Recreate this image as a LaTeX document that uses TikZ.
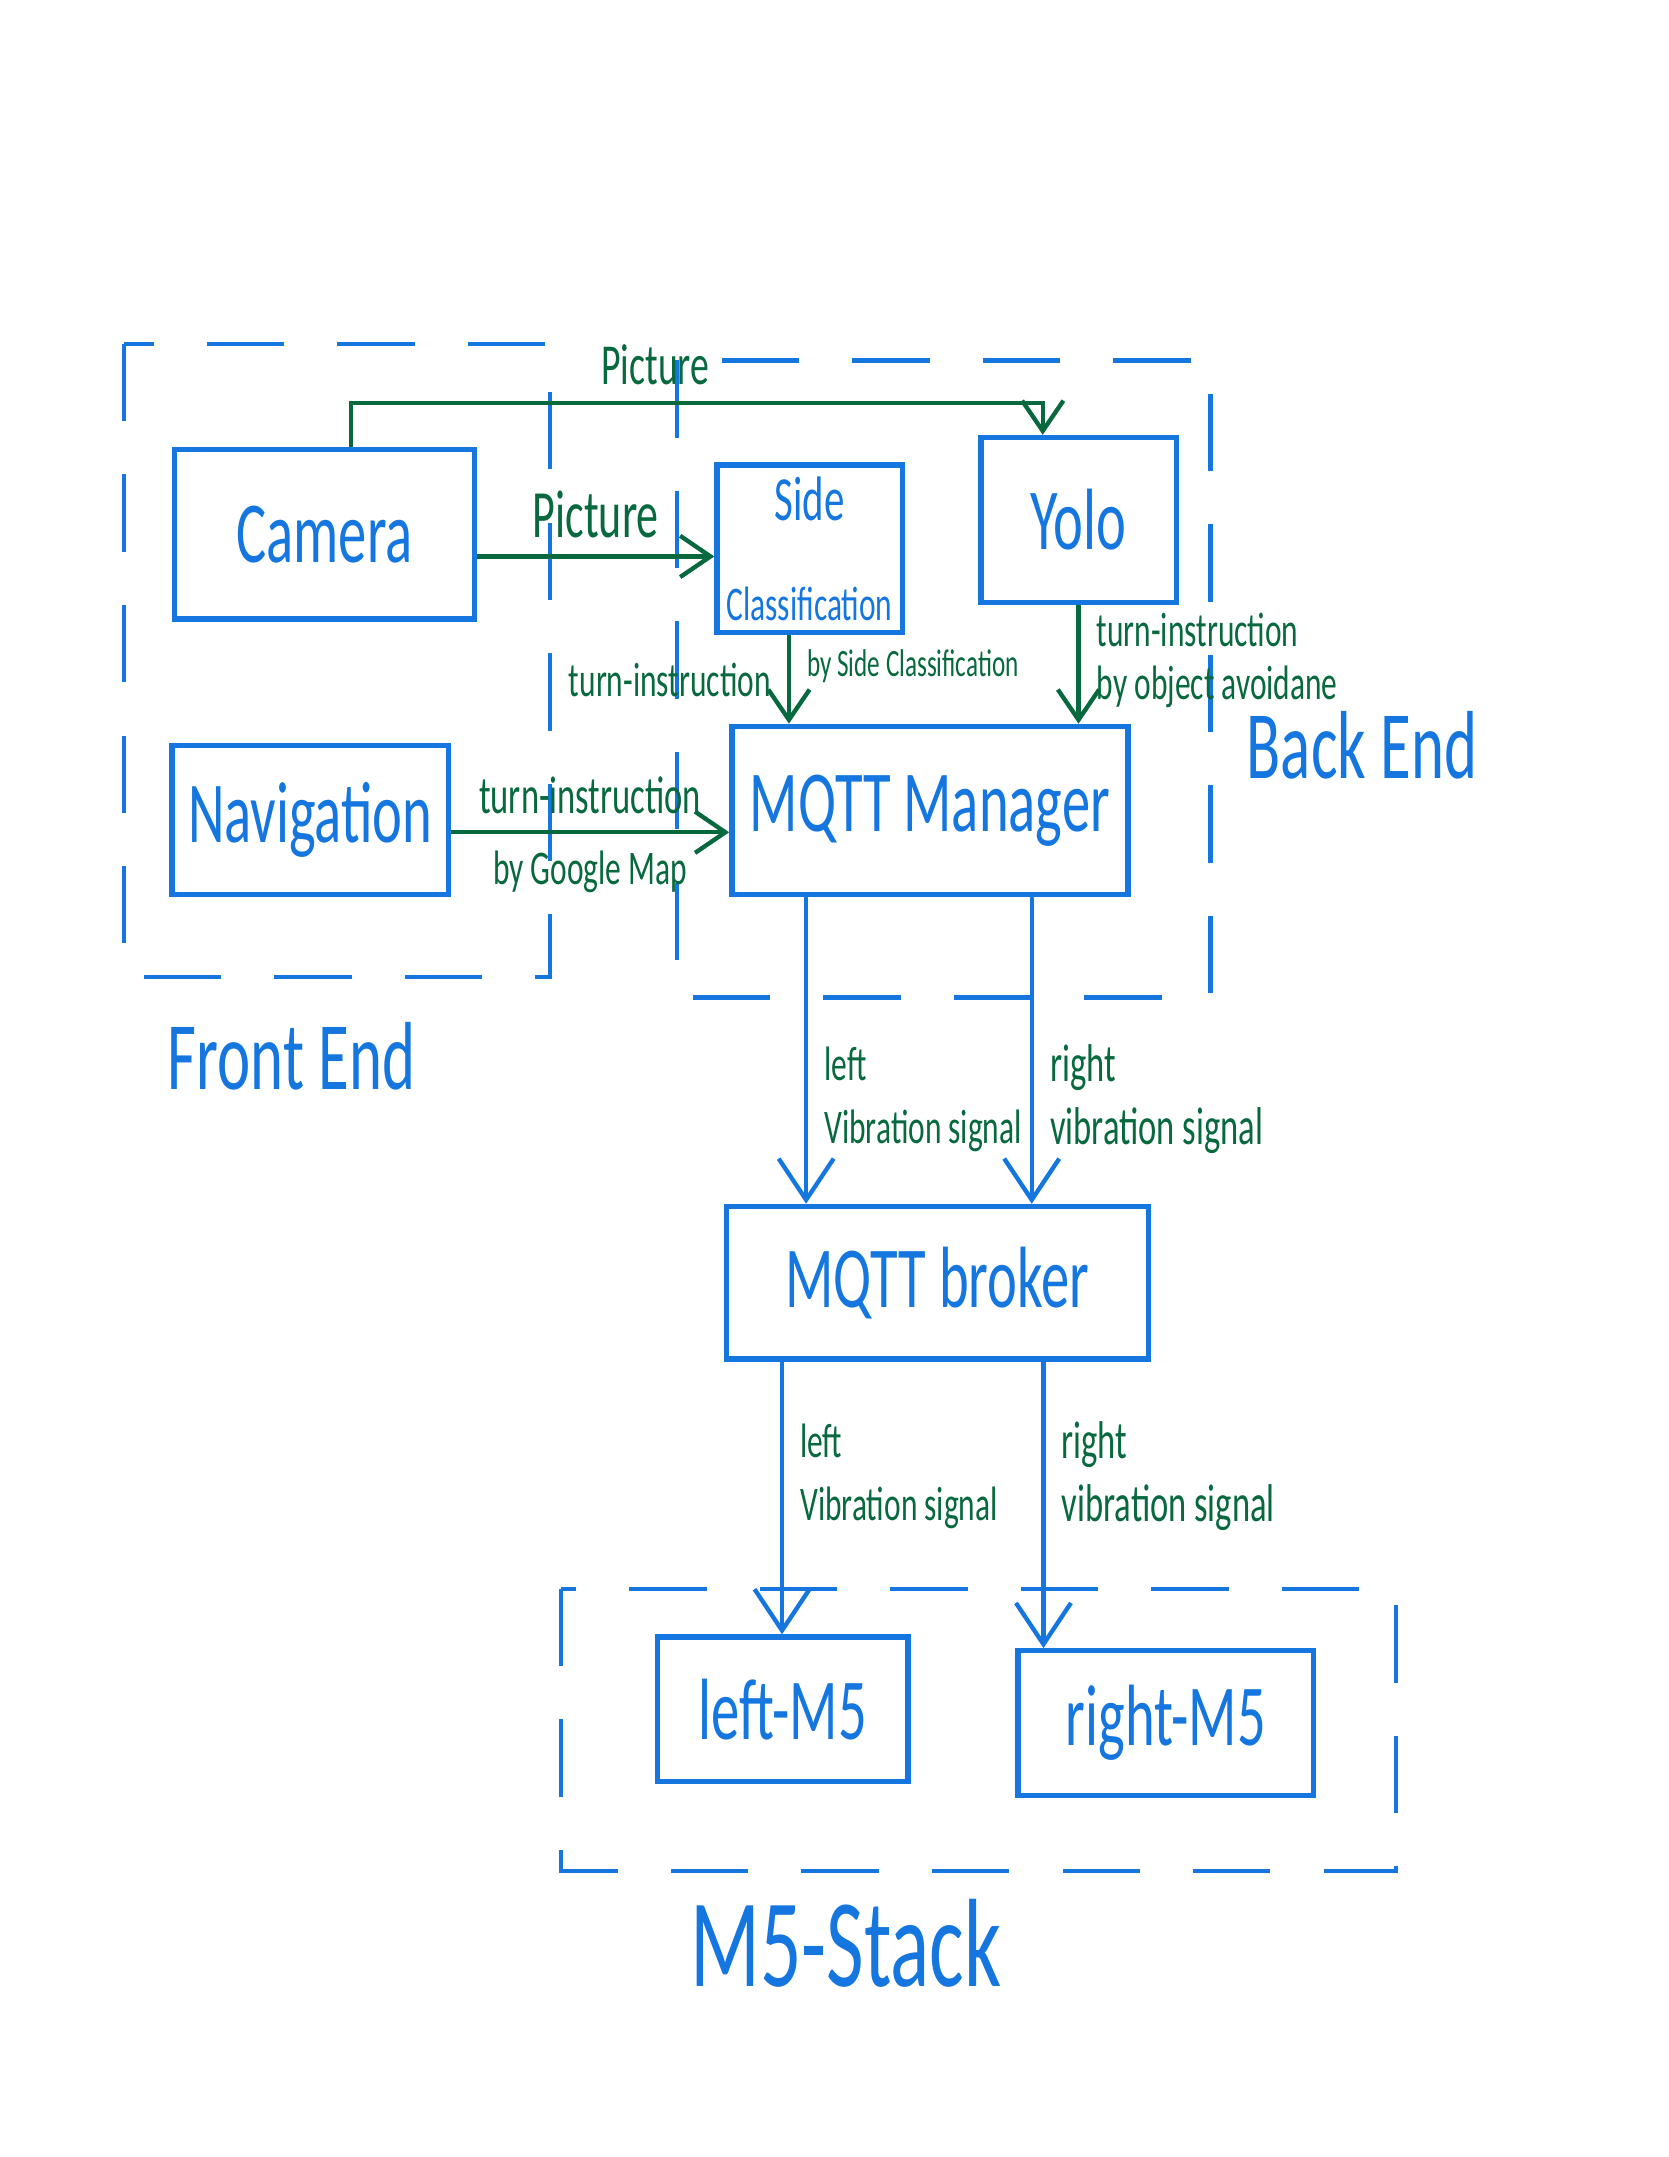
\documentclass[tikz,border=0pt]{standalone}
\usepackage{fontspec}
\usepackage{tikz}
\usetikzlibrary{arrows.meta,positioning}
\newfontfamily\handfont[FakeStretch=0.65]{Carlito}
\definecolor{penblue}{RGB}{20,118,222}
\definecolor{pengreen}{RGB}{8,104,62}

\begin{document}
\begin{tikzpicture}[
  box/.style={draw=penblue, line width=1.1pt, text=penblue, font=\handfont\fontsize{18}{20}\selectfont, inner sep=2pt},
  group/.style={draw=penblue, line width=0.9pt, dash pattern=on 16pt off 11pt},
  grouplabel/.style={text=penblue, font=\handfont\fontsize{20}{22}\selectfont},
  note/.style={text=pengreen, font=\handfont\fontsize{10}{13}\selectfont, align=left},
  flow/.style={draw=pengreen, line width=0.9pt, -{Straight Barb[length=2.2mm,width=3mm]}},
  signal/.style={draw=penblue, line width=0.9pt, -{Straight Barb[length=3mm,width=4mm]}}
]
  \useasboundingbox (0,0) rectangle (12.13,-15.68);

  % Front End
  \draw[group] (0.90,-2.50) rectangle (4.00,-7.10);
  \node[grouplabel] (frontlbl) at (2.12,-7.68) {Front End};
  \node[box, minimum width=2.18cm, minimum height=1.23cm] (camera) at (2.36,-3.885) {Camera};
  \node[box, minimum width=2.01cm, minimum height=1.08cm] (nav) at (2.255,-5.96) {Navigation};

  % Back End
  \draw[group] (4.92,-2.62) rectangle (8.80,-7.25);
  \node[grouplabel] (backlbl) at (9.90,-5.42) {Back End};
  \node[box, minimum width=1.33cm, minimum height=1.22cm, align=center] (side) at (5.885,-3.99)
    {{\fontsize{13}{15}\selectfont Side}\\[0.3mm]{\fontsize{10}{12}\selectfont Classification}};
  \node[box, minimum width=1.42cm, minimum height=1.20cm] (yolo) at (7.84,-3.78) {Yolo};
  \node[box, minimum width=2.88cm, minimum height=1.22cm] (mgr) at (6.76,-5.89) {MQTT Manager};

  % broker
  \node[box, minimum width=3.07cm, minimum height=1.11cm] (broker) at (6.815,-9.325) {MQTT broker};

  % M5-Stack
  \draw[group] (4.08,-11.55) rectangle (10.15,-13.60);
  \node[grouplabel, font=\handfont\fontsize{26}{28}\selectfont] (m5lbl) at (6.15,-14.13) {M5-Stack};
  \node[box, minimum width=1.82cm, minimum height=1.05cm] (leftm5) at (5.69,-12.425) {left-M5};
  \node[box, minimum width=2.15cm, minimum height=1.05cm] (rightm5) at (8.475,-12.525) {right-M5};

  % pictures
  \draw[flow] ([xshift=1.9mm]camera.north) |- node[note, above, pos=0.72, font=\handfont\fontsize{12}{14}\selectfont] {Picture}
    ([xshift=-2.6mm,yshift=2.3mm]yolo.north) -- ([xshift=-2.6mm]yolo.north);
  \draw[flow] ([yshift=-1.6mm]camera.east) -- ([yshift=-1.6mm]camera.east -| side.west)
    node[note, midway, above, font=\handfont\fontsize{14}{16}\selectfont] {Picture};

  % turn instructions
  \draw[flow] ([xshift=-1.5mm]side.south) -- ([xshift=-1.5mm]side.south |- mgr.north)
    node[note, midway, left] {turn-instruction}
    node[note, midway, right, yshift=1mm, font=\handfont\fontsize{8}{10}\selectfont] {by Side Classification};
  \draw[flow] (yolo.south) -- (yolo.south |- mgr.north)
    node[note, midway, right, yshift=0.3mm, font=\handfont\fontsize{10}{11}\selectfont] {turn-instruction\\by object avoidane};
  \draw[flow] ([yshift=-0.9mm]nav.east) -- ([yshift=-0.9mm]nav.east -| mgr.west)
    node[note, midway, above, font=\handfont\fontsize{11}{13}\selectfont] {turn-instruction}
    node[note, midway, below] {by Google Map};

  % vibration signals
  \draw[signal] ([xshift=-9mm]mgr.south) -- ([xshift=-9mm]mgr.south |- broker.north)
    node[note, pos=0.66, right] {left\\Vibration signal};
  \draw[signal] ([xshift=7.4mm]mgr.south) -- ([xshift=7.4mm]mgr.south |- broker.north)
    node[note, pos=0.66, right, font=\handfont\fontsize{11}{13}\selectfont] {right\\vibration signal};
  \draw[signal] ([xshift=-11.3mm]broker.south) -- ([xshift=-11.3mm]broker.south |- leftm5.north)
    node[note, pos=0.42, right] {left\\Vibration signal};
  \draw[signal] ([xshift=7.7mm]broker.south) -- ([xshift=7.7mm]broker.south |- rightm5.north)
    node[note, pos=0.40, right, font=\handfont\fontsize{11}{13}\selectfont] {right\\vibration signal};
\end{tikzpicture}
\end{document}
